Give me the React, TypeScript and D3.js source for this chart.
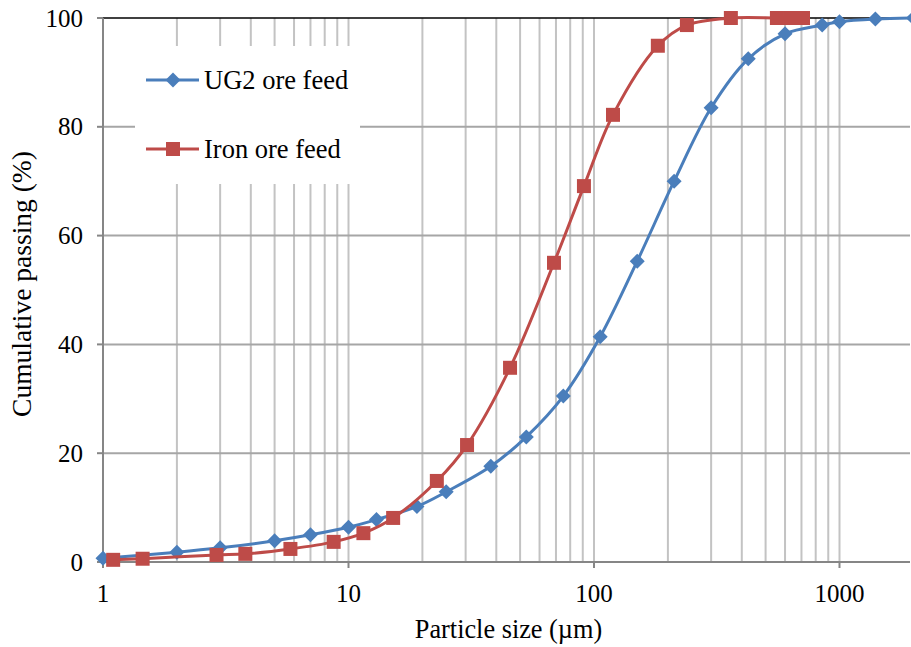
import React, { useEffect, useRef } from "react"
import * as d3 from "d3"

// UG2 ore feed
const ug2Sizes = [1, 2, 3, 5, 7, 10, 13, 19, 25, 38, 53, 75, 106, 150, 212, 300, 425, 600, 850, 1000, 1400, 2000]
const ug2Passing = [0.7, 1.8, 2.6, 3.9, 5.0, 6.4, 7.8, 10.2, 12.9, 17.6, 23.0, 30.5, 41.4, 55.3, 70.0, 83.5, 92.5, 97.1, 98.7, 99.3, 99.8, 100]

// Iron ore feed
const ironSizes = [1.1, 1.45, 2.9, 3.8, 5.8, 8.7, 11.5, 15.2, 22.9, 30.4, 45.5, 68.7, 91, 119.5, 182, 239, 361, 556, 629, 710]
const ironPassing = [0.4, 0.6, 1.3, 1.5, 2.4, 3.7, 5.3, 8.1, 14.9, 21.5, 35.7, 55.0, 69.1, 82.2, 94.9, 98.7, 100, 100, 100, 100]

const xTicks = [1, 10, 100, 1000]
const yTicks = [0, 20, 40, 60, 80, 100]

const seriesNames = ["UG2 ore feed", "Iron ore feed"]

const W = 911
const H = 647
const FONT = "'Liberation Serif', 'Times New Roman', Times, serif"

const App = () => {
	const ref = useRef<SVGSVGElement>(null)

	useEffect(() => {
		const svg = d3.select(ref.current)
		svg.selectAll("*").remove()

		const x = d3.scaleLog().domain([1, 2000]).range([103, 913.4])
		const y = d3.scaleLinear().domain([0, 100]).range([562, 18])
		const right = 910

		// vertical grid lines (log minor)
		const vGrid: number[] = []
		for (let k = 0; k < 4; k++) {
			for (let i = 1; i < 10; i++) {
				const v = i * Math.pow(10, k)
				if (v > 1 && v <= 2000) vGrid.push(v)
			}
		}
		svg
			.append("g")
			.selectAll("line")
			.data(vGrid)
			.join("line")
			.attr("x1", d => x(d))
			.attr("x2", d => x(d))
			.attr("y1", y(100))
			.attr("y2", y(0))
			.attr("stroke", "#c3c3c3")
			.attr("stroke-width", 2)

		// horizontal grid lines
		svg
			.append("g")
			.selectAll("line")
			.data(yTicks.filter(d => d > 0 && d < 100))
			.join("line")
			.attr("x1", x(1))
			.attr("x2", right)
			.attr("y1", d => y(d))
			.attr("y2", d => y(d))
			.attr("stroke", "#a6a6a6")
			.attr("stroke-width", 2)

		// top border line
		svg
			.append("line")
			.attr("x1", x(1))
			.attr("x2", right)
			.attr("y1", y(100))
			.attr("y2", y(100))
			.attr("stroke", "#000")
			.attr("stroke-width", 1.5)

		// axes
		const axisColor = "#868686"
		svg
			.append("line")
			.attr("x1", x(1))
			.attr("x2", x(1))
			.attr("y1", y(100))
			.attr("y2", y(0))
			.attr("stroke", axisColor)
			.attr("stroke-width", 2)
		svg
			.append("line")
			.attr("x1", x(1))
			.attr("x2", right)
			.attr("y1", y(0))
			.attr("y2", y(0))
			.attr("stroke", axisColor)
			.attr("stroke-width", 2)

		svg
			.append("g")
			.selectAll("line")
			.data(yTicks)
			.join("line")
			.attr("x1", x(1) - 6)
			.attr("x2", x(1))
			.attr("y1", d => y(d))
			.attr("y2", d => y(d))
			.attr("stroke", axisColor)
			.attr("stroke-width", 2)

		svg
			.append("g")
			.selectAll("line")
			.data(xTicks)
			.join("line")
			.attr("x1", d => x(d))
			.attr("x2", d => x(d))
			.attr("y1", y(0))
			.attr("y2", y(0) + 6)
			.attr("stroke", axisColor)
			.attr("stroke-width", 2)

		// tick labels
		svg
			.append("g")
			.selectAll("text")
			.data(yTicks)
			.join("text")
			.attr("x", 83)
			.attr("y", d => y(d) + 8.5)
			.attr("text-anchor", "end")
			.attr("font-family", FONT)
			.attr("font-size", 25)
			.text(d => d)

		svg
			.append("g")
			.selectAll("text")
			.data(xTicks)
			.join("text")
			.attr("x", d => x(d))
			.attr("y", 602)
			.attr("text-anchor", "middle")
			.attr("font-family", FONT)
			.attr("font-size", 25)
			.text(d => d)

		// axis titles
		svg
			.append("text")
			.attr("x", (x(1) + right) / 2 + 2)
			.attr("y", 638)
			.attr("text-anchor", "middle")
			.attr("font-family", FONT)
			.attr("font-size", 26.3)
			.text("Particle size (µm)")

		svg
			.append("text")
			.attr("transform", `translate(31, 284) rotate(-90)`)
			.attr("text-anchor", "middle")
			.attr("font-family", FONT)
			.attr("font-size", 27.5)
			.text("Cumulative passing (%)")

		// series
		const series = [
			{ name: seriesNames[0], sizes: ug2Sizes, values: ug2Passing, color: "#4a7ebb", marker: "diamond" },
			{ name: seriesNames[1], sizes: ironSizes, values: ironPassing, color: "#be4b48", marker: "square" },
		]

		const markerPath = (m: string) =>
			m === "diamond" ? "M0,-7.5L7.5,0L0,7.5L-7.5,0Z" : "M-7,-7H7V7H-7Z"

		const line = d3
			.line<[number, number]>()
			.x(d => x(d[0]))
			.y(d => y(d[1]))
			.curve(d3.curveCatmullRom.alpha(0.5))

		const plot = svg.append("g")
		series.forEach(s => {
			const pts = s.sizes.map((v, i) => [v, s.values[i]] as [number, number])
			plot
				.append("path")
				.attr("d", line(pts))
				.attr("fill", "none")
				.attr("stroke", s.color)
				.attr("stroke-width", 3)
			plot
				.append("g")
				.selectAll("path")
				.data(pts)
				.join("path")
				.attr("transform", d => `translate(${x(d[0])},${y(d[1])})`)
				.attr("d", markerPath(s.marker))
				.attr("fill", s.color)
		})

		// legend
		const legend = svg.append("g")
		legend
			.append("rect")
			.attr("x", 135)
			.attr("y", 46)
			.attr("width", 225)
			.attr("height", 138)
			.attr("fill", "#fff")

		series.forEach((s, i) => {
			const ly = 80 + i * 69
			legend
				.append("line")
				.attr("x1", 146)
				.attr("x2", 199)
				.attr("y1", ly)
				.attr("y2", ly)
				.attr("stroke", s.color)
				.attr("stroke-width", 3)
			legend
				.append("path")
				.attr("transform", `translate(173,${ly})`)
				.attr("d", markerPath(s.marker))
				.attr("fill", s.color)
			legend
				.append("text")
				.attr("x", 204)
				.attr("y", ly + 9)
				.attr("font-family", FONT)
				.attr("font-size", 26.5)
				.text(s.name)
		})
	}, [])

	return (
		<svg
			ref={ref}
			width={W}
			height={H}
			style={{ position: "absolute", left: 0, top: 0, background: "#fff" }}
		></svg>
	)
}

export default App
